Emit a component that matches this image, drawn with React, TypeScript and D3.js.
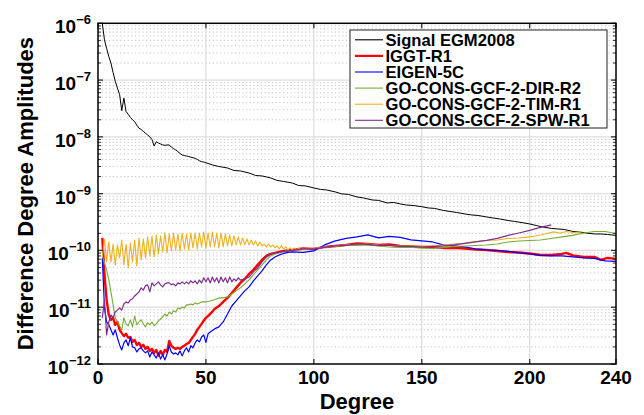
import React from "react";
import * as d3 from "d3";

// Values are in units of 1e-10
const UNIT = 1e-10;

const signalDeg = [2,3,4,5,6,7,8,9,10,11,12,13,14,15,16,17,18,19,20,21,22,23,24,25,26,27,28,29,30,31,32,33,34,35,36,37,38,39,40,41,42,43,44,45,46,47,48,49,50,53,56,60,63,66,70,73,76,80,83,86,90,93,96,100,103,106,110,113,116,120,123,127,130,134,137,140,143,146,150,153,156,160,163,166,170,173,176,180,183,186,190,193,196,200,203,206,210,213,216,220,223,226,230,233,236,240];
const signalVal = [10000,5100,3600,2600,2000,1350,950,720,560,290,480,280,250,220,200,185,160,142,135,125,116,108,100,90,69,82,78,75,72,71,72,72,66,62,59,55,51,48,47,46,45,44,43,42,40,38,36.6,36,35,32,30.1,28.3,25.6,25.1,23.1,20.9,20.5,18.9,17.1,16.4,15.4,13.9,13.7,12.6,11.9,11.6,10.7,9.9,9.7,8.75,8.4,7.74,7.6,6.86,7.0,6.59,6.3,6.2,5.9,5.6,5.5,5.06,4.86,4.67,4.39,4.22,4.13,3.89,3.73,3.59,3.37,3.24,3.11,2.93,2.75,2.59,2.44,2.39,2.34,2.16,2.12,2.03,1.95,1.95,1.91,1.84];

const iggtDeg = [2,3,4,5,6,7,8,9,10,11,12,13,14,15,16,17,18,19,20,21,22,23,24,25,26,27,28,29,30,31,32,33,34,35,36,37,38,39,40,41,42,43,44,45,46,47,48,49,50,52,54,56,58,60,62,64,66,68,70,72,74,76,78,80,82,84,86,88,90,95,100,105,110,115,120,125,130,135,140,145,150,155,160,165,170,175,180,185,190,195,200,205,210,215,217,220,225,230,233,236,240];
const iggtVal = [1.66,0.37,0.135,0.073,0.06,0.065,0.049,0.055,0.04,0.035,0.031,0.034,0.029,0.03,0.0245,0.0265,0.0217,0.0235,0.02,0.0217,0.0185,0.02,0.017,0.0185,0.0157,0.0177,0.014,0.017,0.0145,0.0177,0.0163,0.0255,0.021,0.0193,0.0185,0.0193,0.0185,0.02,0.021,0.0225,0.0235,0.0265,0.03,0.034,0.04,0.045,0.051,0.058,0.065,0.076,0.093,0.105,0.124,0.146,0.178,0.219,0.268,0.315,0.386,0.454,0.556,0.68,0.8,0.868,0.904,0.941,0.98,1.0,1.02,1.084,1.063,1.152,1.2,1.25,1.33,1.3,1.25,1.275,1.2,1.176,1.152,1.152,1.107,1.107,1.084,1.04,1.02,0.98,0.941,0.922,0.885,0.833,0.833,0.868,0.904,0.817,0.768,0.768,0.68,0.738,0.709];

const eigenDeg = [2,3,4,5,6,7,8,9,10,11,12,13,14,15,16,17,18,19,20,21,22,23,24,25,26,27,28,29,30,31,32,33,34,35,36,37,38,39,40,41,42,43,44,45,46,47,48,49,50,51,52,54,56,58,60,62,64,66,68,70,72,74,76,78,80,82,84,86,88,90,95,100,105,110,115,120,125,130,135,140,145,150,155,160,165,170,175,180,185,190,195,200,205,210,215,220,225,230,235,240];
const eigenVal = [0.74,0.097,0.055,0.049,0.04,0.0325,0.04,0.029,0.0217,0.0177,0.0235,0.0265,0.021,0.029,0.02,0.0193,0.0163,0.0185,0.0193,0.017,0.0157,0.017,0.0133,0.0163,0.0145,0.0127,0.0157,0.0122,0.0145,0.0118,0.015,0.021,0.0163,0.015,0.0157,0.0145,0.017,0.0139,0.017,0.0193,0.0163,0.021,0.0193,0.0235,0.0265,0.0245,0.03,0.0325,0.024,0.034,0.0367,0.0415,0.045,0.055,0.076,0.105,0.129,0.158,0.194,0.228,0.29,0.355,0.435,0.556,0.68,0.768,0.833,0.885,0.922,0.941,0.922,0.98,1.25,1.47,1.627,1.73,1.875,1.66,1.764,1.694,1.53,1.47,1.41,1.25,1.2,1.15,1.063,1.02,1.0,0.96,0.904,0.868,0.817,0.8,0.8,0.768,0.738,0.723,0.653,0.64];

const dirDeg = [2,3,4,5,6,7,8,9,10,11,12,13,14,15,16,17,18,19,20,21,22,23,24,25,26,27,28,29,30,31,32,33,34,35,36,37,38,39,40,41,42,43,44,45,46,47,48,50,52,54,56,58,60,62,64,66,68,70,72,74,76,78,80,82,84,86,88,90,95,100,105,110,115,120,125,130,135,140,145,150,155,160,165,170,175,180,185,190,195,200,205,210,215,220,225,230,235,240];
const dirVal = [0.8,0.6,0.454,0.304,0.186,0.11,0.065,0.055,0.047,0.04,0.065,0.051,0.047,0.06,0.045,0.07,0.049,0.055,0.06,0.051,0.045,0.053,0.049,0.055,0.047,0.051,0.0575,0.062,0.0675,0.076,0.07,0.0825,0.076,0.0865,0.0825,0.097,0.0935,0.101,0.097,0.11,0.11,0.114,0.11,0.119,0.114,0.119,0.124,0.124,0.129,0.135,0.146,0.146,0.152,0.171,0.194,0.219,0.258,0.304,0.37,0.454,0.556,0.68,0.8,0.868,0.922,0.96,0.98,1.0,1.04,1.084,1.15,1.176,1.225,1.225,1.25,1.2,1.15,1.13,1.13,1.107,1.084,1.13,1.176,1.2,1.225,1.25,1.3,1.41,1.47,1.5,1.53,1.627,1.73,1.84,2.03,2.16,2.16,1.99];

const timDeg = [2,3,4,5,6,7,8,9,10,11,12,13,14,15,16,17,18,19,20,21,22,23,24,25,26,27,28,29,30,31,32,33,34,35,36,37,38,39,40,41,42,43,44,45,46,47,48,49,50,51,52,53,54,55,56,57,58,59,60,61,62,63,64,65,66,67,68,69,70,71,72,73,74,75,76,77,78,79,80,81,82,83,84,85,86,87,88,89,90,91,92,93,94,95,100,105,110,115,120,125,130,135,140,145,150,155,160,165,170,175,180,185,190,195,200,205,208,211,214,217,220,224];
const timVal = [0.768,1.594,0.627,1.41,0.627,1.3,0.556,1.25,0.738,1.53,0.556,1.3,0.492,1.355,0.627,1.53,0.533,1.66,0.68,1.594,0.738,1.73,0.8,1.8,0.768,1.875,0.868,1.8,0.941,2.03,0.904,1.95,0.98,2.03,1.02,1.95,0.98,2.03,1.063,1.95,1.02,2.03,1.107,2.03,1.063,2.03,1.152,2.12,1.107,2.03,1.152,2.12,1.152,2.03,1.107,2.03,1.152,1.95,1.2,1.875,1.2,1.8,1.25,1.73,1.25,1.66,1.25,1.594,1.25,1.53,1.25,1.47,1.2,1.41,1.2,1.3,1.152,1.3,1.152,1.25,1.107,1.2,1.063,1.2,1.063,1.152,1.02,1.107,1.02,1.107,1.02,1.107,1.02,1.063,1.084,1.152,1.2,1.25,1.275,1.3,1.25,1.225,1.2,1.2,1.176,1.2,1.25,1.3,1.355,1.44,1.5,1.53,1.627,1.66,1.73,1.875,1.99,2.12,2.03,2.16,2.07,2.12];

const spwDeg = [2,3,4,5,6,7,8,9,10,11,12,13,14,15,16,17,18,19,20,21,22,23,24,25,26,27,28,29,30,31,32,33,34,35,36,37,38,39,40,41,42,43,44,45,46,47,48,49,50,51,52,53,54,55,56,57,58,59,60,61,62,63,64,65,66,68,70,72,74,76,78,80,82,84,86,88,90,95,100,105,110,115,120,125,130,135,140,145,150,155,160,165,170,175,180,185,190,195,200,205,210];
const spwVal = [0.065,0.135,0.0325,0.055,0.073,0.065,0.0825,0.089,0.097,0.089,0.114,0.124,0.119,0.135,0.141,0.158,0.171,0.186,0.219,0.2,0.238,0.248,0.186,0.268,0.238,0.258,0.28,0.248,0.228,0.258,0.268,0.268,0.248,0.258,0.238,0.268,0.258,0.28,0.258,0.28,0.258,0.29,0.268,0.29,0.258,0.3,0.268,0.33,0.28,0.33,0.268,0.34,0.28,0.33,0.268,0.34,0.28,0.33,0.268,0.34,0.28,0.315,0.29,0.33,0.3,0.315,0.34,0.42,0.49,0.63,0.768,0.868,0.9,0.922,0.96,0.98,1.0,1.063,1.063,1.13,1.2,1.225,1.3,1.275,1.225,1.225,1.176,1.176,1.15,1.176,1.2,1.25,1.33,1.41,1.5,1.627,1.84,2.03,2.25,2.54,2.81];

const seriesNames = ["Signal EGM2008","IGGT-R1","EIGEN-5C","GO-CONS-GCF-2-DIR-R2","GO-CONS-GCF-2-TIM-R1","GO-CONS-GCF-2-SPW-R1"];
const seriesColors = ["#000000","#ff0000","#0000ff","#77ac30","#edb120","#7e2f8e"];
const seriesWidths = [1,2.4,1.2,1.1,1.1,1.2];
const seriesDeg = [signalDeg, iggtDeg, eigenDeg, dirDeg, timDeg, spwDeg];
const seriesVal = [signalVal, iggtVal, eigenVal, dirVal, timVal, spwVal];

const xTicks = [0,50,100,150,200,240];
const yExps = [-12,-11,-10,-9,-8,-7,-6];

const W = 644, H = 415;
const L = 98, R = 616, T = 23.3, B = 364;
const FONT = "'Liberation Sans', Arial, Helvetica, sans-serif";

export default function App() {
  const x = d3.scaleLinear().domain([0, 240]).range([L, R]);
  const y = d3.scaleLog().domain([1e-12, 1e-6]).range([B, T]);
  const line = d3.line<[number, number]>().x(d => x(d[0])).y(d => y(d[1] * UNIT));

  const minorVals: number[] = [];
  for (let e = -12; e < -6; e++) for (let k = 2; k <= 9; k++) minorVals.push(k * Math.pow(10, e));

  return (
    <svg width={W} height={H} style={{ position: "absolute", left: 0, top: 0, background: "#fff" }} fontFamily={FONT}>
      <defs>
        <clipPath id="plotclip"><rect x={L} y={T} width={R - L} height={B - T} /></clipPath>
      </defs>
      <rect x={0} y={0} width={W} height={H} fill="#fff" />
      {minorVals.map((v, i) => (
        <line key={"mg" + i} x1={L} x2={R} y1={y(v)} y2={y(v)} stroke="#c4c4c4" strokeWidth={1} strokeDasharray="1.2 2.5" />
      ))}
      {yExps.slice(1, -1).map(e => (
        <line key={"gy" + e} x1={L} x2={R} y1={y(Math.pow(10, e))} y2={y(Math.pow(10, e))} stroke="#dedede" strokeWidth={1.3} />
      ))}
      {xTicks.slice(1, -1).map(t => (
        <line key={"gx" + t} x1={x(t)} x2={x(t)} y1={T} y2={B} stroke="#dedede" strokeWidth={1.3} />
      ))}
      <g clipPath="url(#plotclip)">
        {seriesDeg.map((degs, i) => {
          const pts = degs.map((d, j) => [d, seriesVal[i][j]] as [number, number]);
          return <path key={"s" + i} d={line(pts) || ""} fill="none" stroke={seriesColors[i]} strokeWidth={seriesWidths[i]} strokeLinejoin="round" />;
        })}
      </g>
      {xTicks.map(t => (
        <g key={"xt" + t}>
          <line x1={x(t)} x2={x(t)} y1={B} y2={B - 5} stroke="#333" strokeWidth={1.3} />
          <line x1={x(t)} x2={x(t)} y1={T} y2={T + 5} stroke="#333" strokeWidth={1.3} />
        </g>
      ))}
      {yExps.map(e => (
        <g key={"yt" + e}>
          <line x1={L} x2={L + 5} y1={y(Math.pow(10, e))} y2={y(Math.pow(10, e))} stroke="#333" strokeWidth={1.3} />
          <line x1={R} x2={R - 5} y1={y(Math.pow(10, e))} y2={y(Math.pow(10, e))} stroke="#333" strokeWidth={1.3} />
        </g>
      ))}
      {minorVals.map((v, i) => (
        <g key={"ymt" + i}>
          <line x1={L} x2={L + 3} y1={y(v)} y2={y(v)} stroke="#333" strokeWidth={1} />
          <line x1={R} x2={R - 3} y1={y(v)} y2={y(v)} stroke="#333" strokeWidth={1} />
        </g>
      ))}
      <rect x={L} y={T} width={R - L} height={B - T} fill="none" stroke="#000" strokeWidth={1.5} />
      {xTicks.map(t => (
        <text key={"xl" + t} x={x(t)} y={384} textAnchor="middle" fontSize={19} fontWeight="bold" fill="#000">{t}</text>
      ))}
      {yExps.map(e => (
        <text key={"yl" + e} x={91} y={y(Math.pow(10, e)) + 10} textAnchor="end" fontWeight="bold" fill="#000">
          <tspan fontSize={19}>10</tspan>
          <tspan fontSize={13} dy={-9}>{"\u2212" + Math.abs(e)}</tspan>
        </text>
      ))}
      <text x={(L + R) / 2} y={409} textAnchor="middle" fontSize={22} fontWeight="bold" fill="#000">Degree</text>
      <text transform={`translate(33,${(T + B) / 2}) rotate(-90)`} textAnchor="middle" fontSize={22} fontWeight="bold" fill="#000">Difference Degree Amplitudes</text>
      <rect x={350} y={30} width={257} height={98} fill="#fff" stroke="#222" strokeWidth={1} />
      {seriesNames.map((n, i) => {
        const by = 45.8 + i * 16.1;
        return (
          <g key={"lg" + i}>
            <line x1={355} x2={383} y1={by - 6} y2={by - 6} stroke={seriesColors[i]} strokeWidth={i === 1 ? 2.2 : 1.1} />
            <text x={385.5} y={by} fontSize={16.6} fontWeight="bold" fill="#000">{n}</text>
          </g>
        );
      })}
    </svg>
  );
}
